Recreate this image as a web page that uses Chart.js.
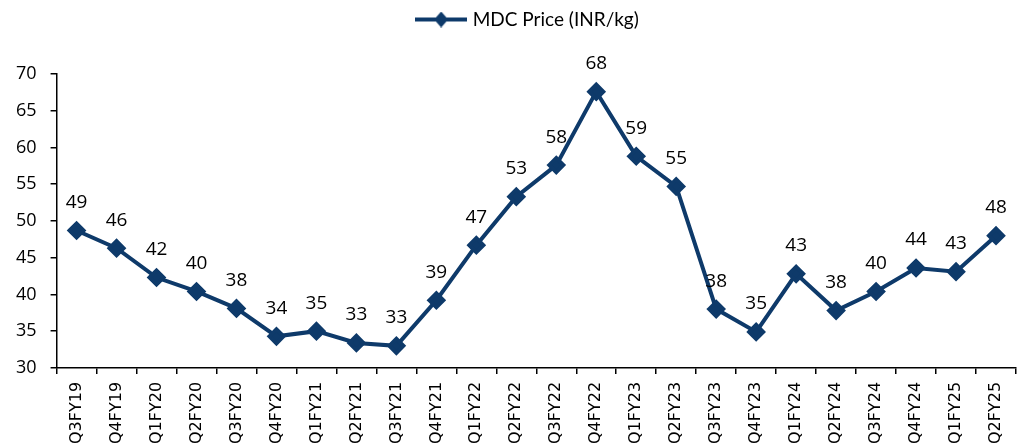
<!DOCTYPE html>
<html>
<head>
<meta charset="utf-8">
<script src="https://cdn.jsdelivr.net/npm/chart.js@4"></script>
<style>
  body { margin: 0; background: #fff; }
  #wrap { width: 1032px; height: 448px; }
</style>
</head>
<body>
<div id="wrap"><canvas id="precioChart"></canvas></div>
<script>
// ---------------- DATOS ----------------
const trimestres = ['Q3FY19', 'Q4FY19', 'Q1FY20', 'Q2FY20', 'Q3FY20', 'Q4FY20', 'Q1FY21', 'Q2FY21',
    'Q3FY21', 'Q4FY21', 'Q1FY22', 'Q2FY22', 'Q3FY22', 'Q4FY22', 'Q1FY23', 'Q2FY23',
    'Q3FY23', 'Q4FY23', 'Q1FY24', 'Q2FY24', 'Q3FY24', 'Q4FY24', 'Q1FY25', 'Q2FY25'];
const precioMdc = [48.7, 46.3, 42.3, 40.4, 38.1, 34.3, 35.0, 33.4,
    33.0, 39.2, 46.7, 53.3, 57.6, 67.6, 58.8, 54.7,
    38.0, 34.9, 42.8, 37.8, 40.4, 43.6, 43.1, 48.0];
const nombreSerie = 'MDC Price (INR/kg)';
const ejeY = { min: 30, max: 70, paso: 5 };

const azul = '#0e3a6a';

// icono de la leyenda: línea con rombo
function iconoLeyenda() {
    const c = document.createElement('canvas');
    c.width = 52; c.height = 16;
    const g = c.getContext('2d');
    g.strokeStyle = azul;
    g.lineWidth = 4;
    g.beginPath(); g.moveTo(0, 8); g.lineTo(52, 8); g.stroke();
    g.fillStyle = azul;
    g.beginPath(); g.moveTo(26, 0); g.lineTo(33, 8); g.lineTo(26, 16); g.lineTo(19, 8); g.closePath(); g.fill();
    return c;
}
const icono = iconoLeyenda();

// etiquetas de valor encima de cada punto
const etiquetas = {
    id: 'etiquetas',
    afterDatasetsDraw(chart) {
        const ctx = chart.ctx;
        const meta = chart.getDatasetMeta(0);
        ctx.save();
        ctx.font = '19px "Open Sans"';
        ctx.fillStyle = '#000';
        ctx.textAlign = 'center';
        ctx.textBaseline = 'middle';
        meta.data.forEach((p, i) => {
            ctx.fillText(Math.round(precioMdc[i]), p.x, p.y - 28);
        });
        ctx.restore();
    }
};

// más espacio debajo de la leyenda y leyenda algo a la derecha
const espacioLeyenda = {
    id: 'espacioLeyenda',
    beforeInit(chart) {
        const fitOriginal = chart.legend.fit;
        chart.legend.fit = function () {
            fitOriginal.bind(chart.legend)();
            this.height += 35;
        };
    },
    afterLayout(chart) {
        chart.legend.left += 20;
        chart.legend.right += 20;
    }
};

new Chart(document.getElementById('precioChart').getContext('2d'), {
    type: 'line',
    data: {
        labels: trimestres,
        datasets: [{
            label: nombreSerie,
            data: precioMdc,
            borderColor: azul,
            backgroundColor: azul,
            borderWidth: 4,
            pointStyle: 'rectRot',
            pointRadius: 7,
            pointBackgroundColor: azul,
            pointBorderColor: azul,
            tension: 0
        }]
    },
    options: {
        responsive: true,
        maintainAspectRatio: false,
        animation: false,
        layout: { padding: { left: 2, right: 16, top: 2, bottom: -4 } },
        plugins: {
            legend: {
                display: true,
                position: 'top',
                labels: {
                    usePointStyle: true,
                    pointStyleWidth: 44,
                    boxHeight: 16,
                    color: '#000',
                    font: { family: 'Lato', size: 19 },
                    padding: 8,
                    generateLabels: (chart) => [{
                        text: nombreSerie,
                        pointStyle: icono,
                        fillStyle: azul,
                        strokeStyle: azul,
                        lineWidth: 0,
                        datasetIndex: 0
                    }]
                }
            },
            tooltip: { enabled: false }
        },
        scales: {
            x: {
                offset: true,
                grid: { offset: true, drawOnChartArea: false, drawTicks: true, tickLength: 6, color: '#000', lineWidth: 1.5 },
                border: { color: '#000', width: 1.5 },
                ticks: {
                    color: '#000',
                    font: { family: 'DejaVu Sans', size: 16 },
                    maxRotation: 90,
                    minRotation: 90,
                    autoSkip: false,
                    padding: 8
                }
            },
            y: {
                min: ejeY.min,
                max: ejeY.max,
                grid: { drawOnChartArea: false, drawTicks: true, tickLength: 6, color: '#000', lineWidth: 1.5 },
                border: { color: '#000', width: 1.5 },
                ticks: {
                    stepSize: ejeY.paso,
                    color: '#000',
                    font: { family: 'Open Sans', size: 18 },
                    padding: 14
                }
            }
        }
    },
    plugins: [etiquetas, espacioLeyenda]
});
</script>
</body>
</html>
